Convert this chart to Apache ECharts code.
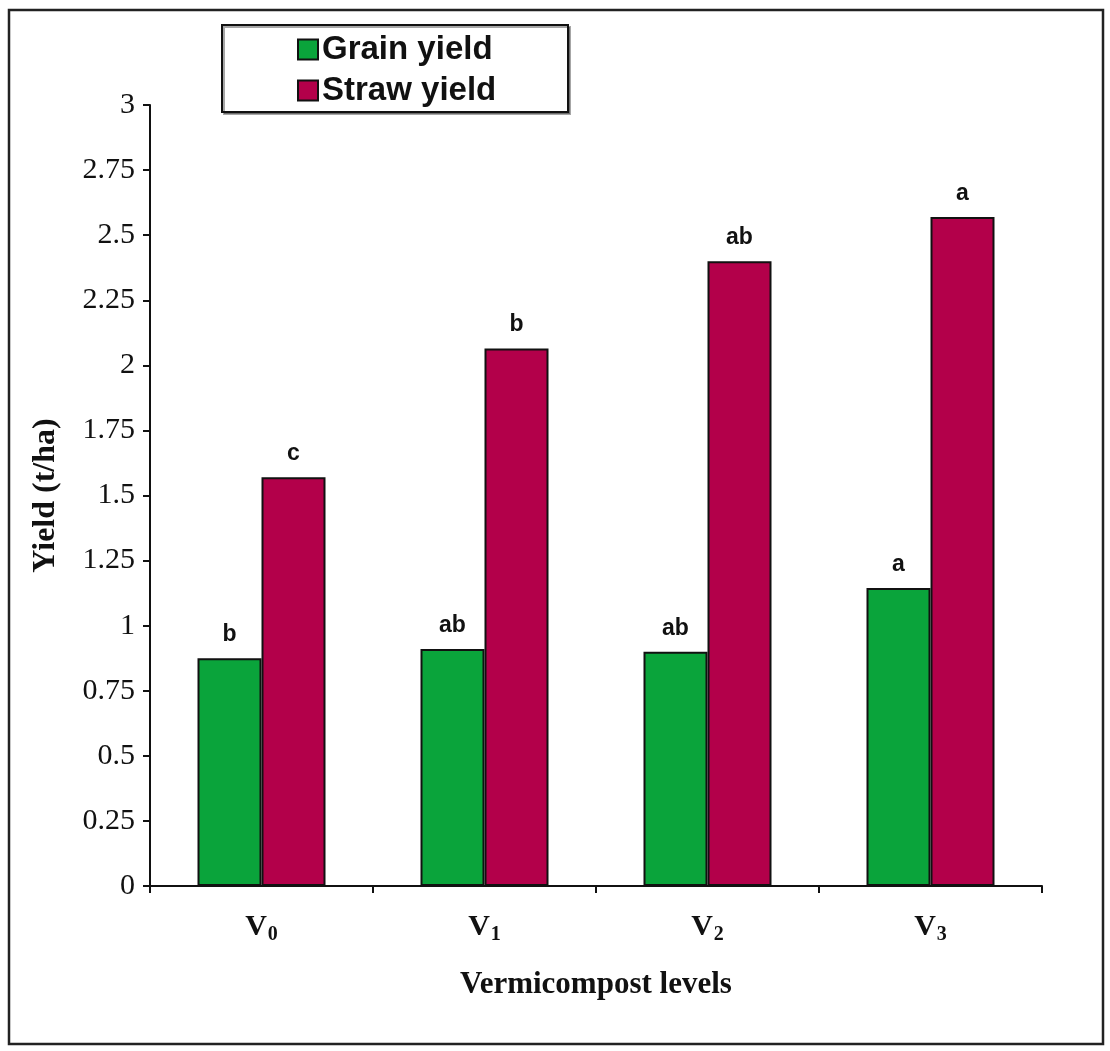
<!DOCTYPE html>
<html>
<head>
<meta charset="utf-8">
<title>Grain and straw yield by vermicompost level</title>
<script src="https://cdn.jsdelivr.net/npm/echarts@6/dist/echarts.min.js"></script>
<style>
  html, body { margin: 0; padding: 0; background: #ffffff; }
  #chart { width: 1110px; height: 1051px; }
</style>
</head>
<body>
<div id="chart"></div>
<script>
// Vermicompost treatment levels (drawn as V with a subscript index)
const categories = ['V0', 'V1', 'V2', 'V3'];

// Yields in t/ha
const grainYield = [0.875, 0.91, 0.90, 1.145];
const strawYield = [1.57, 2.065, 2.40, 2.57];

// Mean-separation letters shown above each bar
const grainLetters = ['b', 'ab', 'ab', 'a'];
const strawLetters = ['c', 'b', 'ab', 'a'];

// Value axis range and step
const yMin = 0;
const yMax = 3;
const yStep = 0.25;

const serif = '"Liberation Serif", "Times New Roman", serif';
const sans = '"Liberation Sans", Arial, sans-serif';

const chart = echarts.init(document.getElementById('chart'), null, { renderer: 'canvas' });

const letterLabel = (letters) => ({
  show: true,
  position: 'top',
  distance: 12,
  formatter: (p) => letters[p.dataIndex],
  fontFamily: sans,
  fontWeight: 'bold',
  fontSize: 23,
  color: '#111'
});

chart.setOption({
  backgroundColor: '#ffffff',
  animation: false,
  grid: { left: 150, right: 68, top: 105, bottom: 165, containLabel: false },
  graphic: [
    {
      type: 'rect',
      shape: { x: 9, y: 10, width: 1094, height: 1034 },
      style: { fill: 'none', stroke: '#222', lineWidth: 2.5 },
      z: 0
    },
    {
      type: 'rect',
      shape: { x: 222, y: 25, width: 346, height: 87 },
      style: { fill: '#fff', stroke: '#111', lineWidth: 2, shadowColor: 'rgba(0,0,0,0.35)', shadowOffsetX: 2, shadowOffsetY: 2, shadowBlur: 0 },
      z: 1
    }
  ],
  legend: {
    orient: 'vertical',
    left: 297,
    top: 33,
    padding: 0,
    itemGap: 8,
    itemWidth: 20,
    itemHeight: 20,
    icon: 'rect',
    z: 5,
    textStyle: { fontFamily: sans, fontWeight: 'bold', fontSize: 33, color: '#111', padding: [0, 0, 0, -1] },
    data: ['Grain yield', 'Straw yield']
  },
  xAxis: {
    type: 'category',
    data: categories,
    name: 'Vermicompost levels',
    nameLocation: 'middle',
    nameGap: 83,
    nameTextStyle: { fontFamily: serif, fontWeight: 'bold', fontSize: 31, color: '#111' },
    axisLine: { lineStyle: { color: '#111', width: 2 } },
    axisTick: { show: true, length: 7, lineStyle: { color: '#111', width: 2 } },
    axisLabel: {
      margin: 26,
      formatter: (v) => '{b|' + v.charAt(0) + '}{s|' + v.slice(1) + '}',
      rich: {
        b: { fontFamily: serif, fontWeight: 'bold', fontSize: 30, color: '#111', lineHeight: 30 },
        s: { fontFamily: serif, fontWeight: 'bold', fontSize: 20, color: '#111', lineHeight: 20, padding: [16, 0, 0, 1] }
      }
    }
  },
  yAxis: {
    type: 'value',
    min: yMin,
    max: yMax,
    interval: yStep,
    name: 'Yield (t/ha)',
    nameLocation: 'middle',
    nameGap: 88,
    nameTextStyle: { fontFamily: serif, fontWeight: 'bold', fontSize: 32, color: '#111' },
    axisLine: { show: true, lineStyle: { color: '#111', width: 2 } },
    axisTick: { show: true, length: 7, lineStyle: { color: '#111', width: 2 } },
    axisLabel: { margin: 15, fontFamily: serif, fontSize: 30, color: '#111' },
    splitLine: { show: false }
  },
  series: [
    {
      name: 'Grain yield',
      type: 'bar',
      data: grainYield,
      barWidth: 64,
      barGap: '0%',
      itemStyle: { color: '#0aa43b', borderColor: '#111', borderWidth: 2 },
      label: letterLabel(grainLetters)
    },
    {
      name: 'Straw yield',
      type: 'bar',
      data: strawYield,
      barWidth: 64,
      barGap: '0%',
      itemStyle: { color: '#b3004a', borderColor: '#111', borderWidth: 2 },
      label: letterLabel(strawLetters)
    }
  ]
});
</script>
</body>
</html>
